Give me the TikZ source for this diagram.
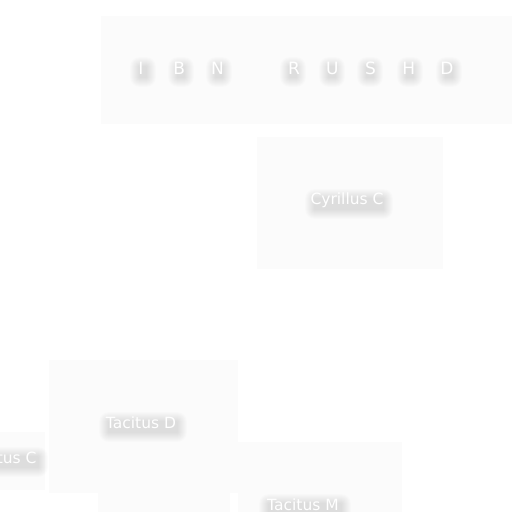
\documentclass[tikz,border=0pt]{standalone}
\usepackage{fontspec}
\setmainfont{DejaVu Sans}
\usetikzlibrary{calc}
\newcommand{\ltr}[1]{\makebox[38.25pt]{#1}}
\newcommand{\blob}[4]{% cx, cy, half width, half height
  \foreach \r in {1,...,10}{
    \fill[black,opacity=0.011,rounded corners=\r pt]
      (#1-#3-\r+2,#2-#4-\r+4) rectangle (#1+#3+\r+2,#2+#4+\r+4);}}
\begin{document}
\begin{tikzpicture}[x=1pt,y=-1pt,
  panel/.style={fill=black!1.4,draw=none},
  label/.style={font=\fontsize{15.5}{18}\selectfont,text=white,inner sep=0pt},
  titlelabel/.style={font=\fontsize{17}{20}\selectfont,text=white,inner sep=0pt}]
\useasboundingbox (0,0) rectangle (512,512);
\fill[white] (0,0) rectangle (512,512);
% panels
\fill[panel] (101,16) rectangle (512,124);
\fill[panel] (257,137) rectangle (443,269);
\fill[panel] (49,360) rectangle (238,493);
\fill[panel] (98,458) rectangle (230,512);
\fill[panel] (238,442) rectangle (402,512);
\fill[panel] (0,432) rectangle (45,490);
% shadows
\foreach \x in {141,179,217,291,330,368,408,447}{\blob{\x}{68}{3}{5}}
\blob{347}{200}{34}{5}
\blob{141}{423}{34}{5}
\blob{2}{458}{34}{5}
\blob{303}{505}{36}{5}
% labels
\node[titlelabel] (title) at (294,68) {\ltr{I}\ltr{B}\ltr{N}\ltr{}\ltr{R}\ltr{U}\ltr{S}\ltr{H}\ltr{D}};
\node[label] (cyr) at (347,200) {Cyrillus C};
\node[label] (tacd) at (141,423) {Tacitus D};
\node[label] (tacc) at (2,458) {Tacitus C};
\node[label] (tacm) at (303,505) {Tacitus M};
\end{tikzpicture}
\end{document}
